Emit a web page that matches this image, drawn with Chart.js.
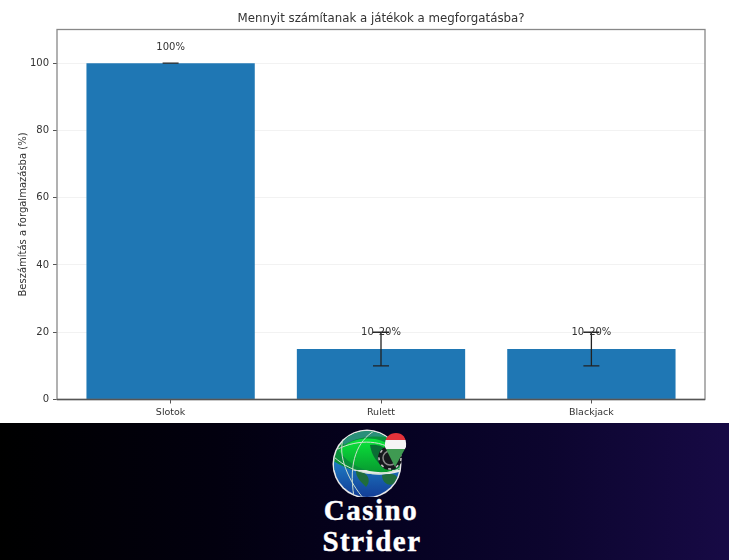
<!DOCTYPE html>
<html>
<head>
<meta charset="utf-8">
<script src="https://cdn.jsdelivr.net/npm/chart.js@4"></script>
<style>
html, body { margin: 0; padding: 0; background: #fff; }
body { width: 729px; height: 560px; overflow: hidden; position: relative; }
#plot { position: absolute; left: 0; top: 0; width: 729px; height: 423px; }
#plot canvas { filter: blur(0.35px); }
#banner { position: absolute; left: 0; top: 423px; width: 729px; height: 137px; background: linear-gradient(90deg, #000 0%, #02000f 30%, #060222 55%, #0c052e 75%, #170a45 100%); }
#banner svg { position: absolute; left: 330px; top: 2px; filter: blur(0.4px); }
.brand { position: absolute; left: 272px; width: 200px; text-align: center; color: #fff; font-family: "Liberation Serif", serif; font-weight: bold; font-size: 29px; line-height: 30px; letter-spacing: 1.5px; -webkit-text-stroke: 0.4px #fff; }
</style>
</head>
<body>
<div id="plot"><canvas id="chart" width="729" height="423"></canvas></div>
<div id="banner">
  <svg width="80" height="72" viewBox="0 0 80 72">
    <defs>
      <clipPath id="globe"><circle cx="37" cy="39" r="33"/></clipPath>
      <clipPath id="pin"><path d="M65 42L55 22C54 12 60 8 66 8 72 8 77 12 76 22Z"/></clipPath>
      <linearGradient id="land" x1="0" y1="0" x2="0" y2="1">
        <stop offset="0" stop-color="#0ae63a"/><stop offset="1" stop-color="#089a30"/>
      </linearGradient>
      <linearGradient id="sea" x1="0" y1="0" x2="0" y2="1">
        <stop offset="0" stop-color="#1e7cc4"/><stop offset="1" stop-color="#123a94"/>
      </linearGradient>
    </defs>
    <circle cx="37" cy="39" r="34.5" fill="#e8e8e8"/>
    <g clip-path="url(#globe)">
      <rect x="3" y="5" width="68" height="40" fill="#0a8f3a"/>
      <path d="M8 6H70V14C50 10 30 10 14 20Z" fill="#2a8f7a"/>
      <path d="M9 26C22 10 50 10 62 22 66 30 66 40 62 46 44 50 22 44 9 26Z" fill="url(#land)"/>
      <path d="M40 20C52 18 64 26 62 44 52 44 42 34 40 20Z" fill="#0a6e34"/>
      <path d="M3 36C22 48 48 54 72 46V74H3Z" fill="url(#sea)"/>
      <path d="M26 46C38 46 42 56 36 62 30 56 26 52 26 46ZM52 50C60 48 68 48 68 56 60 64 52 58 52 50Z" fill="#1f6d3c"/>
      <g fill="none" stroke="#cfe0cf" stroke-width="1">
        <path d="M4 32C24 50 52 54 72 42"/>
        <path d="M14 12C6 30 20 58 34 74"/>
        <path d="M8 24C28 14 54 14 70 30"/>
        <path d="M44 6C28 16 18 36 24 72"/>
      </g>
    </g>
    <circle cx="60" cy="33" r="12" fill="#16181c"/>
    <circle cx="60" cy="33" r="7" fill="none" stroke="#8a8a8a" stroke-width="1.5"/>
    <circle cx="60" cy="33" r="11" fill="none" stroke="#c8c8c8" stroke-width="1.5" stroke-dasharray="3 5"/>
    <g clip-path="url(#pin)">
      <rect x="50" y="6" width="30" height="9" fill="#e4323a"/>
      <rect x="50" y="15" width="30" height="9" fill="#f4f4f4"/>
      <rect x="50" y="24" width="30" height="20" fill="#3f9a52"/>
    </g>
  </svg>
  <div class="brand" style="top:72px; left:271px">Casino</div>
  <div class="brand" style="top:103px">Strider</div>
</div>
<script>
const categories = ['Slotok', 'Rulett', 'Blackjack'];
const shares = [100, 15, 15];
const errorLow = [100, 10, 10];
const errorHigh = [100, 20, 20];
const barLabels = ['100%', '10–20%', '10–20%'];
const labelValues = [104.7, 20, 20];
const chartTitle = 'Mennyit számítanak a játékok a megforgatásba?';

const textColor = '#333';
const fontFamily = '"DejaVu Sans", sans-serif';

// hiba-vonalak, keret es feliratok a skalakon keresztul
const errorBars = {
    id: 'errorBars',
    afterDatasetsDraw(chart) {
        const { ctx, chartArea, scales: { x, y } } = chart;
        ctx.save();
        ctx.strokeStyle = '#222';
        ctx.lineWidth = 1.3;
        categories.forEach((_, i) => {
            const px = x.getPixelForValue(i);
            const lo = y.getPixelForValue(errorLow[i]);
            const hi = y.getPixelForValue(errorHigh[i]);
            ctx.beginPath();
            ctx.moveTo(px, lo); ctx.lineTo(px, hi);
            ctx.moveTo(px - 8, lo); ctx.lineTo(px + 8, lo);
            ctx.moveTo(px - 8, hi); ctx.lineTo(px + 8, hi);
            ctx.stroke();
        });
        ctx.fillStyle = textColor;
        ctx.font = '10px ' + fontFamily;
        ctx.textAlign = 'center';
        ctx.textBaseline = 'middle';
        barLabels.forEach((t, i) => ctx.fillText(t, x.getPixelForValue(i), y.getPixelForValue(labelValues[i])));
        ctx.font = '11.8px ' + fontFamily;
        ctx.fillText(chartTitle, (chartArea.left + chartArea.right) / 2, 19);
        ctx.strokeStyle = '#888';
        ctx.lineWidth = 1.3;
        ctx.strokeRect(chartArea.left, chartArea.top, chartArea.right - chartArea.left, chartArea.bottom - chartArea.top);
        ctx.strokeStyle = '#555';
        ctx.beginPath();
        ctx.moveTo(chartArea.left, chartArea.bottom); ctx.lineTo(chartArea.right, chartArea.bottom);
        ctx.stroke();
        ctx.restore();
    }
};

new Chart(document.getElementById('chart').getContext('2d'), {
    type: 'bar',
    data: {
        datasets: [{
            data: shares.map((v, i) => ({ x: i, y: v })),
            backgroundColor: '#1f77b4',
            barPercentage: 0.8,
            categoryPercentage: 1
        }]
    },
    options: {
        responsive: false,
        animation: false,
        layout: { padding: { top: 29.5, right: 24, left: 17, bottom: 0 } },
        plugins: {
            legend: { display: false },
            tooltip: { enabled: false }
        },
        scales: {
            x: {
                type: 'linear',
                offset: false,
                min: -0.54,
                max: 2.54,
                afterBuildTicks: s => { s.ticks = categories.map((_, i) => ({ value: i })); },
                afterFit: s => { s.height = 23.5; },
                ticks: {
                    color: textColor,
                    font: { family: fontFamily, size: 9.5 },
                    maxRotation: 0,
                    padding: 3,
                    callback: v => categories[v]
                },
                grid: { offset: false, drawOnChartArea: false, tickLength: 4, tickColor: '#555' },
                border: { display: false }
            },
            y: {
                min: 0,
                max: 110,
                afterFit: s => { s.width = 40; },
                ticks: {
                    stepSize: 20,
                    includeBounds: false,
                    color: textColor,
                    font: { family: fontFamily, size: 10 },
                    padding: 4
                },
                grid: { color: 'rgba(0,0,0,0.05)', tickLength: 4, tickColor: '#555' },
                border: { display: false },
                title: {
                    display: true,
                    text: 'Beszámítás a forgalmazásba (%)',
                    color: textColor,
                    font: { family: fontFamily, size: 10 },
                    padding: { top: 0, bottom: 0 }
                }
            }
        }
    },
    plugins: [errorBars]
});
</script>
</body>
</html>
